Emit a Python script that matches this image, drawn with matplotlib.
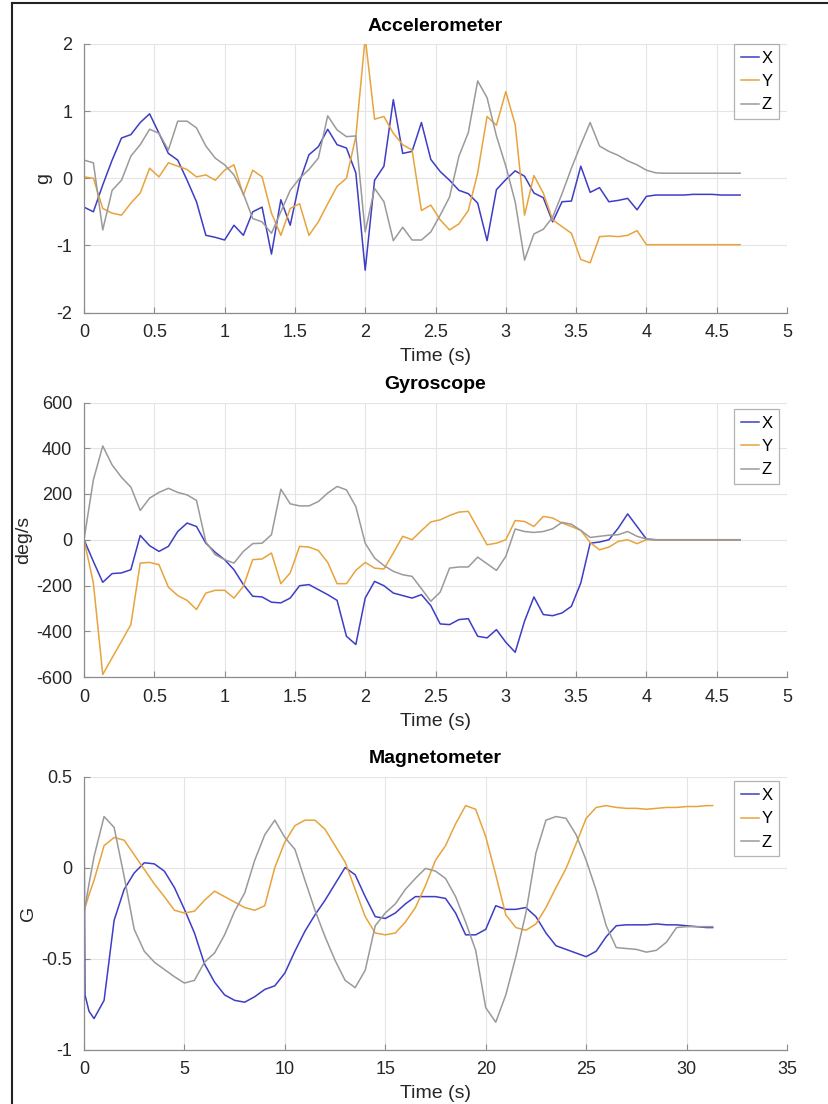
import numpy as np
import matplotlib
matplotlib.use("Agg")
import matplotlib.pyplot as plt
from matplotlib.lines import Line2D

plt.rcParams['font.family'] = ['Liberation Sans', 'DejaVu Sans']

# ---- accelerometer / gyroscope: 15 Hz samples, 0 .. 4.67 s
t_imu = np.arange(71) / 15.0

acc_x = [-0.43, -0.5, -0.1, 0.27, 0.6, 0.65, 0.83, 0.96, 0.67, 0.37,
         0.27, -0.03, -0.35, -0.85, -0.88, -0.92, -0.7, -0.85, -0.5, -0.43,
         -1.13, -0.32, -0.7, -0.05, 0.35, 0.47, 0.73, 0.5, 0.45, 0.08,
         -1.37, -0.03, 0.18, 1.17, 0.37, 0.4, 0.83, 0.28, 0.1, -0.03,
         -0.18, -0.23, -0.37, -0.93, -0.17, -0.02, 0.11, 0.03, -0.22, -0.29,
         -0.65, -0.35, -0.34, 0.18, -0.21, -0.14, -0.35, -0.33, -0.3, -0.47,
         -0.27, -0.25, -0.25, -0.25, -0.25, -0.24, -0.24, -0.24, -0.25, -0.25,
         -0.25]
acc_y = [0.02, 0.0, -0.45, -0.52, -0.55, -0.37, -0.22, 0.15, 0.02, 0.23,
         0.18, 0.13, 0.02, 0.05, -0.03, 0.12, 0.2, -0.25, 0.12, 0.02,
         -0.52, -0.85, -0.45, -0.38, -0.85, -0.65, -0.38, -0.12, 0.0, 0.62,
         2.1, 0.88, 0.92, 0.67, 0.5, 0.42, -0.48, -0.4, -0.62, -0.77,
         -0.68, -0.48, 0.08, 0.92, 0.79, 1.29, 0.8, -0.55, 0.04, -0.22,
         -0.62, -0.72, -0.82, -1.21, -1.26, -0.87, -0.86, -0.87, -0.85, -0.78,
         -0.99, -0.99, -0.99, -0.99, -0.99, -0.99, -0.99, -0.99, -0.99, -0.99,
         -0.99]
acc_z = [0.27, 0.23, -0.77, -0.18, -0.03, 0.33, 0.5, 0.73, 0.67, 0.42,
         0.85, 0.85, 0.75, 0.48, 0.3, 0.2, 0.05, -0.23, -0.6, -0.65,
         -0.82, -0.5, -0.18, 0.0, 0.13, 0.3, 0.93, 0.72, 0.62, 0.63,
         -0.8, -0.15, -0.35, -0.93, -0.73, -0.92, -0.92, -0.8, -0.55, -0.28,
         0.33, 0.68, 1.45, 1.2, 0.63, 0.18, -0.35, -1.22, -0.83, -0.76,
         -0.58, -0.23, 0.15, 0.5, 0.83, 0.48, 0.4, 0.34, 0.26, 0.2,
         0.12, 0.08, 0.075, 0.075, 0.075, 0.075, 0.075, 0.075, 0.075, 0.075,
         0.075]

gyr_x = [0, -95, -186, -148, -145, -131, 19, -26, -51, -29,
         36, 73, 58, -15, -55, -87, -131, -196, -247, -250,
         -273, -276, -255, -201, -196, -218, -240, -265, -422, -458,
         -255, -182, -201, -233, -244, -255, -240, -288, -368, -371,
         -349, -345, -422, -429, -393, -448, -492, -356, -250, -327,
         -332, -320, -291, -189, -15, -10, 0, 51, 113, 58,
         3, 0, 0, 0, 0, 0, 0, 0, 0, 0,
         0]
gyr_y = [0, -189, -589, -516, -444, -371, -102, -99, -109, -207,
         -244, -265, -305, -233, -221, -221, -255, -204, -87, -84,
         -58, -192, -145, -29, -32, -47, -99, -192, -192, -134,
         -99, -124, -128, -58, 15, 0, 40, 78, 87, 106,
         121, 124, 51, -22, -15, 0, 84, 80, 58, 102,
         95, 73, 58, 41, -12, -44, -32, -7, 0, -17,
         0, 0, 0, 0, 0, 0, 0, 0, 0, 0,
         0]
gyr_z = [0, 262, 410, 327, 273, 230, 128, 182, 207, 225,
         207, 196, 172, -10, -65, -87, -102, -51, -17, -15,
         22, 221, 157, 148, 148, 167, 204, 233, 218, 145,
         -15, -80, -113, -138, -153, -160, -214, -269, -229, -124,
         -119, -119, -76, -105, -134, -73, 47, 36, 32, 36,
         48, 76, 68, 41, 10, 15, 20, 22, 36, 15,
         3, 0, 0, 0, 0, 0, 0, 0, 0, 0,
         0]

# ---- magnetometer: read at these times (s)
t_mag = [0, 0.05, 0.25] + [0.5 * k for k in range(1, 63)] + [31.3]

mag_x = [0.32, -0.7, -0.79,
         -0.83, -0.73, -0.29, -0.12, -0.03, 0.026, 0.02, -0.02, -0.11, -0.23,
         -0.36, -0.53, -0.63, -0.70, -0.73, -0.74, -0.71, -0.67, -0.65, -0.58,
         -0.46, -0.35, -0.26, -0.18, -0.09, 0.0, -0.04, -0.16, -0.27, -0.28,
         -0.25, -0.2, -0.16, -0.16, -0.16, -0.17, -0.25, -0.37, -0.37, -0.34,
         -0.21, -0.23, -0.23, -0.22, -0.27, -0.36, -0.43, -0.45, -0.47, -0.49,
         -0.46, -0.38, -0.32, -0.315, -0.315, -0.315, -0.31, -0.315, -0.315, -0.32,
         -0.325, -0.33,
         -0.33]
mag_y = [-0.25, -0.22, -0.15,
         -0.07, 0.12, 0.165, 0.15, 0.07, -0.01, -0.09, -0.16, -0.235, -0.25,
         -0.24, -0.18, -0.13, -0.16, -0.19, -0.22, -0.235, -0.21, 0.0, 0.14,
         0.23, 0.26, 0.26, 0.21, 0.12, 0.03, -0.12, -0.27, -0.36, -0.37,
         -0.36, -0.3, -0.22, -0.1, 0.04, 0.12, 0.24, 0.34, 0.32, 0.17,
         -0.04, -0.26, -0.33, -0.345, -0.31, -0.22, -0.11, -0.005, 0.13, 0.27,
         0.33, 0.34, 0.33, 0.325, 0.325, 0.32, 0.325, 0.33, 0.33, 0.335,
         0.335, 0.34,
         0.34]
mag_z = [-0.25, -0.22, -0.09,
         0.06, 0.28, 0.22, -0.05, -0.34, -0.46, -0.52, -0.56, -0.6, -0.635,
         -0.62, -0.52, -0.47, -0.37, -0.24, -0.14, 0.04, 0.18, 0.26, 0.165,
         0.1, -0.07, -0.235, -0.38, -0.51, -0.62, -0.66, -0.565, -0.32, -0.25,
         -0.2, -0.12, -0.06, -0.005, -0.02, -0.06, -0.16, -0.3, -0.455, -0.77,
         -0.85, -0.7, -0.49, -0.25, 0.08, 0.26, 0.28, 0.27, 0.18, 0.04,
         -0.125, -0.32, -0.44, -0.445, -0.45, -0.465, -0.455, -0.41, -0.33, -0.325,
         -0.325, -0.325,
         -0.325]

colors = ['#3d3dc6', '#e8a33c', '#9a9a9a']
labels = ['X', 'Y', 'Z']
ink = '#262626'
spine_col = '#8c8c8c'

fig = plt.figure(figsize=(8.29, 11.04), dpi=100)
W, H = 829, 1104

def make_axes(top, bottom):
    return fig.add_axes([84 / W, 1 - bottom / H, 703 / W, (bottom - top) / H])

panels = [
    (make_axes(44, 312.5), t_imu, [acc_x, acc_y, acc_z], 'Accelerometer', 'g',
     (0, 5), np.arange(0, 5.01, 0.5), (-2, 2), [-2, -1, 0, 1, 2], 1.0),
    (make_axes(402.5, 677), t_imu, [gyr_x, gyr_y, gyr_z], 'Gyroscope', 'deg/s',
     (0, 5), np.arange(0, 5.01, 0.5), (-600, 600), np.arange(-600, 601, 200), 0.976),
    (make_axes(776.5, 1049.5), t_mag, [mag_x, mag_y, mag_z], 'Magnetometer', 'G',
     (0, 35), np.arange(0, 36, 5), (-1, 0.5), [-1, -0.5, 0, 0.5], 0.982),
]

for ax, t, series, title, ylab, xl, xt, yl, yt, leg_top in panels:
    for vals, c, lab in zip(series, colors, labels):
        ax.plot(t, vals, color=c, lw=1.1, label=lab)
    ax.set_xlim(*xl)
    ax.set_ylim(*yl)
    ax.set_xticks(xt)
    ax.set_yticks(yt)
    ax.set_xticklabels(['%g' % v for v in xt])
    ax.set_yticklabels(['%g' % v for v in yt])
    ax.grid(True, color='#e4e4e4', lw=0.8)
    ax.set_axisbelow(True)
    for s in ['top', 'right']:
        ax.spines[s].set_visible(False)
    for s in ['left', 'bottom']:
        ax.spines[s].set_color(spine_col)
        ax.spines[s].set_linewidth(0.9)
    ax.tick_params(direction='in', length=4, width=0.8, color=spine_col,
                   labelsize=13, labelcolor=ink, pad=8.5)
    ax.set_title(title, fontsize=14, fontweight='bold', color='black', pad=9.5)
    ax.set_xlabel('Time (s)', fontsize=14, color=ink, labelpad=5)
    ax.set_ylabel(ylab, fontsize=14, color=ink, labelpad=3)
    handles = [Line2D([], [], color=c, lw=1.1) for c in colors]
    leg = ax.legend(handles, labels, loc='upper right', fontsize=12,
                    handlelength=1.1, handletextpad=0.15, borderpad=0.4,
                    labelspacing=0.5, borderaxespad=0, frameon=True,
                    fancybox=False, bbox_to_anchor=(0.989, leg_top))
    leg.get_frame().set_edgecolor('#a0a0a0')
    leg.get_frame().set_linewidth(0.9)

# outer frame lines (left and top) seen in the reference
fig.add_artist(Line2D([12 / W, 12 / W], [0, 1 - 3 / H], color='#222222', lw=1.5))
fig.add_artist(Line2D([12 / W, 1], [1 - 3 / H, 1 - 3 / H], color='#222222', lw=1.5))

fig.savefig('out.png', dpi=100, facecolor='white')
